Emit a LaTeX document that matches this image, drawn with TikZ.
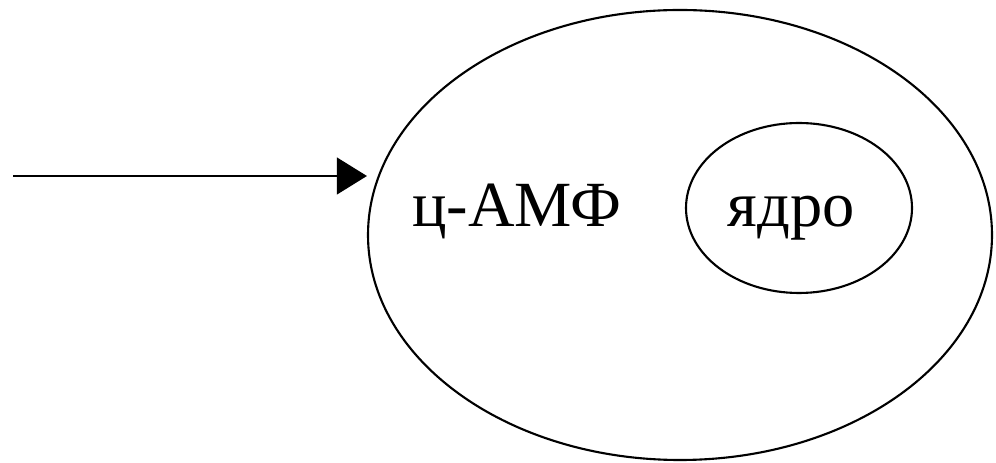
\documentclass[tikz,border=0pt]{standalone}
\usepackage{fontspec}
\setmainfont{Liberation Serif}
\usetikzlibrary{shapes.geometric,arrows.meta}

\begin{document}
\begin{tikzpicture}[
  oval/.style={draw,ellipse,inner sep=0pt,line width=1.8pt},
  label/.style={anchor=base,font=\fontsize{55}{60}\selectfont}]
  \useasboundingbox (0,0) rectangle (29.88,13.89);
  \node[oval,minimum width=18.72cm,minimum height=13.5cm] (cell) at (20.4,6.84) {};
  \node[oval,minimum width=6.78cm,minimum height=5.1cm] (nucleus) at (23.97,7.65) {};
  \node[label] (camp) at (15.51,7.08) {ц-АМФ};
  \node[label] (core) at (23.73,7.08) {ядро};
  \coordinate (start) at (0.39,8.61);
  \draw[line width=1.8pt,-{Triangle[length=0.9cm,width=1.1cm]}] (start) -- (start -| cell.west);
\end{tikzpicture}
\end{document}
